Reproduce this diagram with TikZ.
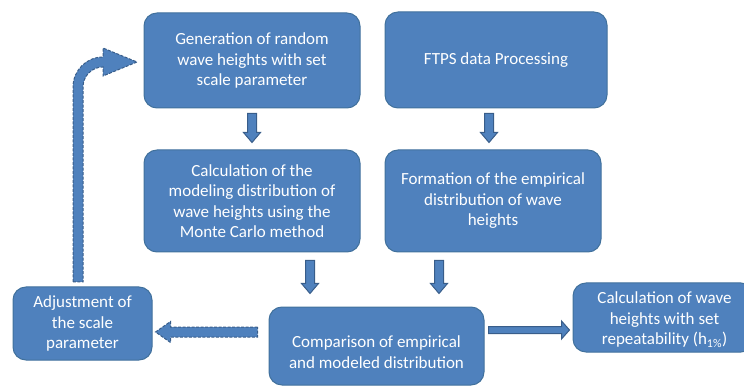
\documentclass[tikz,border=0pt]{standalone}
\usepackage{fontspec}
\setmainfont{Carlito}
\usetikzlibrary{calc}
\definecolor{boxblue}{HTML}{4F81BD}
\definecolor{boxedge}{HTML}{41719C}
\definecolor{arredge}{HTML}{385D8A}
\begin{document}
\begin{tikzpicture}[x=1pt,y=-1pt,
  box/.style={draw=boxedge, line width=1pt, fill=boxblue, rounded corners=13pt,
    text=white, align=center, inner sep=0pt},
  txt/.style={text=white, align=center, inner sep=0pt, font=\fontsize{17}{20.5}\selectfont},
  arr/.style={draw=arredge, fill=boxblue, line width=1pt, line join=miter},
  darr/.style={arr, dash pattern=on 3pt off 1.5pt}]
\useasboundingbox (0,0) rectangle (744,387);
\clip (0,0) rectangle (744,387);
% boxes
\node[box, minimum width=216pt, minimum height=95pt] (gen) at (252,60.5) {};
\node[txt] at (gen.center) {Generation of random\\wave heights with set\\scale parameter};
\node[box, minimum width=222pt, minimum height=96pt] (ftps) at (496,60) {};
\node[txt] at (ftps.center) {FTPS data Processing};
\node[box, minimum width=216pt, minimum height=102pt] (calc) at (252,201) {};
\node[txt] at (calc.center) {Calculation of the\\modeling distribution of\\wave heights using the\\Monte Carlo method};
\node[box, minimum width=216pt, minimum height=102pt] (form) at (493,201) {};
\node[txt] at (form.center) {Formation of the empirical\\distribution of wave\\heights};
\node[box, minimum width=215pt, minimum height=78pt] (cmp) at (376.5,346) {};
\node[txt] at ($(cmp.center)+(0,6)$) {Comparison of empirical\\and modeled distribution};
\node[box, minimum width=139pt, minimum height=73pt] (adj) at (82.5,323.5) {};
\node[txt] at (adj.center) {Adjustment of\\the scale\\parameter};
\node[box, minimum width=181pt, minimum height=69pt] (res) at (663.5,317.5) {};
\node[txt] at ($(res.center)+(1,2)$) {Calculation of wave\\heights with set\\repeatability (h\textsubscript{1\%})};
% down arrows
\coordinate (a1s) at ($(gen.south)+(0,5)$);
\coordinate (a1e) at ($(calc.north)+(0,-7)$);
\coordinate (a2s) at ($(ftps.south)+(-7,5)$);
\coordinate (a2e) at ($(form.north)+(-4,-7)$);
\coordinate (a3s) at ($(calc.south)+(58,8)$);
\coordinate (a3e) at ($(cmp.north)+(-66.5,-13)$);
\coordinate (a4s) at ($(form.south)+(-54,8)$);
\coordinate (a4e) at ($(cmp.north)+(62.5,-13)$);
\foreach \s/\e in {a1s/a1e,a2s/a2e,a3s/a3e,a4s/a4e}{
  \path[arr] let \p1=(\s), \p2=(\e) in
    (\x1-4.5pt,\y1) -- (\x1+4.5pt,\y1) -- (\x1+4.5pt,\y2+10pt) -- (\x1+8.5pt,\y2+10pt)
    -- (\x1,\y2) -- (\x1-8.5pt,\y2+10pt) -- (\x1-4.5pt,\y2+10pt) -- cycle;
}
% right arrow
\coordinate (r1) at ($(cmp.east)+(4,-16)$);
\coordinate (r2) at ($(res.west)+(-3,12.5)$);
\path[arr] let \p1=(r1), \p2=(r2) in
  (\x1,\y1+3.5pt) -- (\x2-8pt,\y1+3.5pt) -- (\x2-8pt,\y1+9pt) -- (\x2,\y1)
  -- (\x2-8pt,\y1-9pt) -- (\x2-8pt,\y1-3.5pt) -- (\x1,\y1-3.5pt) -- cycle;
% left dashed arrow
\coordinate (l1) at ($(cmp.west)+(-11,-14)$);
\coordinate (l2) at ($(adj.east)+(3,8.5)$);
\path[darr] let \p1=(l1), \p2=(l2) in
  (\x1,\y1+5pt) -- (\x2+15pt,\y1+5pt) -- (\x2+15pt,\y1+10.5pt) -- (\x2,\y1)
  -- (\x2+15pt,\y1-10.5pt) -- (\x2+15pt,\y1-5pt) -- (\x1,\y1-5pt) -- cycle;
% curved dashed arrow from adj to gen
\path[darr] (73,282) -- (73,87) arc[start angle=180, end angle=270, radius=30]
  -- (103,48) -- (137,62) -- (103,76) -- (103,67)
  arc[start angle=270, end angle=180, radius=20] -- (83,282) -- cycle;
\end{tikzpicture}
\end{document}
